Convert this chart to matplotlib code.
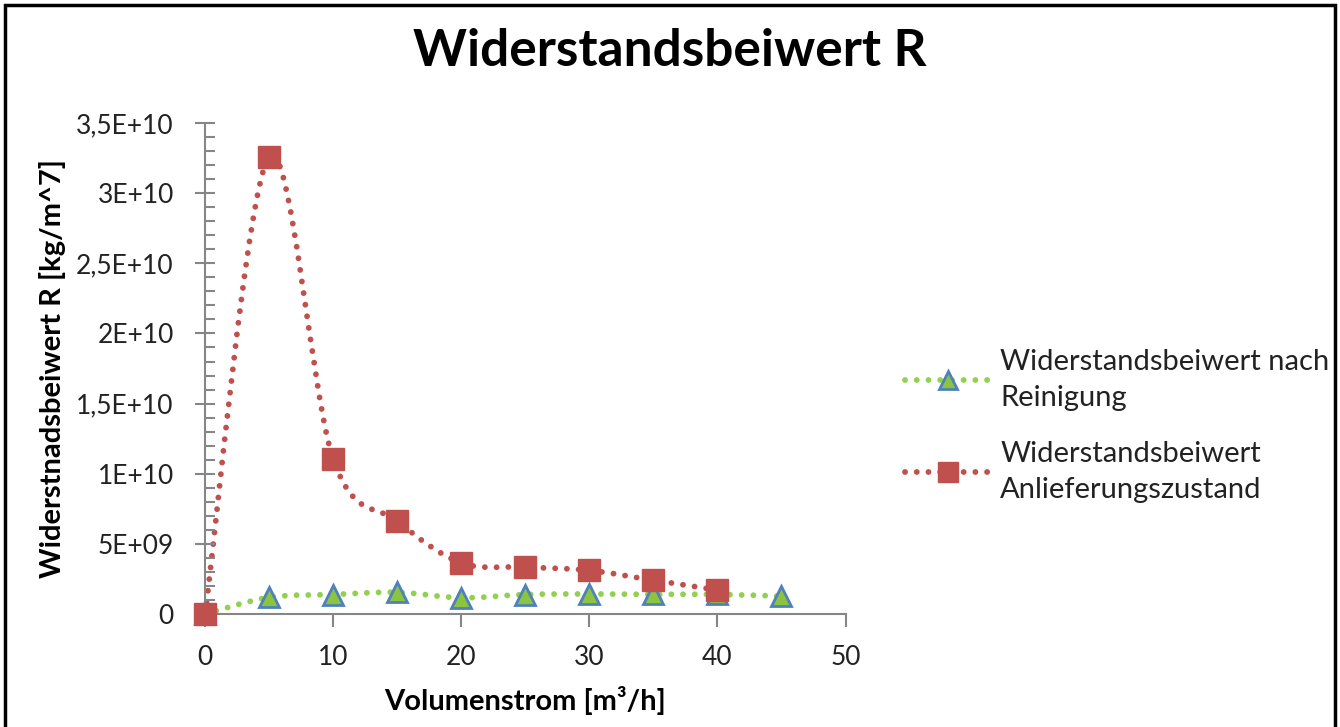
import numpy as np
import matplotlib.pyplot as plt
from matplotlib.path import Path
from matplotlib.patches import PathPatch, Rectangle
from matplotlib.lines import Line2D
from matplotlib.ticker import MultipleLocator, FuncFormatter

plt.rcParams['font.family'] = ['Lato', 'DejaVu Sans']

# Messwerte
volumenstrom_rein = [0, 5, 10, 15, 20, 25, 30, 35, 40, 45]
r_rein = [0, 1.19e9, 1.39e9, 1.55e9, 1.16e9, 1.39e9, 1.43e9, 1.40e9, 1.40e9, 1.27e9]

volumenstrom_anl = [0, 5, 10, 15, 20, 25, 30, 35, 40]
r_anl = [0, 3.26e10, 1.105e10, 6.63e9, 3.65e9, 3.35e9, 3.11e9, 2.41e9, 1.71e9]

label_rein = "Widerstandsbeiwert nach\nReinigung"
label_anl = "Widerstandsbeiwert\nAnlieferungszustand"

RED = '#C0504D'
LIME = '#92D050'
GREEN = '#8CC43F'
BLUE = '#4F81BD'
GRAY = '#868686'


def smooth_path(x, y):
    # geglaettete Linie wie in Excel (Bezier-Segmente)
    x = np.asarray(x, float)
    y = np.asarray(y, float)
    n = len(x)
    verts = [(x[0], y[0])]
    codes = [Path.MOVETO]
    for i in range(n - 1):
        i0 = max(i - 1, 0)
        i3 = min(i + 2, n - 1)
        c1 = (x[i] + (x[i + 1] - x[i0]) / 6, y[i] + (y[i + 1] - y[i0]) / 6)
        c2 = (x[i + 1] - (x[i3] - x[i]) / 6, y[i + 1] - (y[i3] - y[i]) / 6)
        verts += [c1, c2, (x[i + 1], y[i + 1])]
        codes += [Path.CURVE4] * 3
    return Path(verts, codes)


LW = 4.2
dots = (0, (0.01, 2.0))

fig = plt.figure(figsize=(13.4, 7.27), dpi=100)
ax = fig.add_axes([0.153, 0.1554, 0.478, 0.6754])

for xs, ys, col in [(volumenstrom_rein, r_rein, LIME), (volumenstrom_anl, r_anl, RED)]:
    patch = PathPatch(smooth_path(xs, ys), facecolor='none', edgecolor=col,
                      linewidth=LW, linestyle=dots, capstyle='round', clip_on=False)
    ax.add_patch(patch)

ax.plot(volumenstrom_rein, r_rein, linestyle='none', marker='^', markersize=14,
        markerfacecolor=GREEN, markeredgecolor=BLUE, markeredgewidth=2, clip_on=False, zorder=4)
ax.plot(volumenstrom_anl, r_anl, linestyle='none', marker='s', markersize=16,
        markerfacecolor=RED, markeredgecolor=RED, markeredgewidth=1, clip_on=False, zorder=5)

ax.set_xlim(0, 50)
ax.set_ylim(0, 3.5e10)
ax.xaxis.set_major_locator(MultipleLocator(10))
ax.yaxis.set_major_locator(MultipleLocator(5e9))
ax.yaxis.set_minor_locator(MultipleLocator(1e9))


def fmt_y(v, pos):
    if v == 0:
        return "0"
    s = "%.1E" % v
    mant, ex = s.split("E")
    mant = mant.rstrip("0").rstrip(".").replace(".", ",")
    return mant + "E" + ex[0] + "%02d" % int(ex[1:])


ax.yaxis.set_major_formatter(FuncFormatter(fmt_y))

for side in ['top', 'right']:
    ax.spines[side].set_visible(False)
for side in ['left', 'bottom']:
    ax.spines[side].set_color(GRAY)
    ax.spines[side].set_linewidth(1.5)

ax.tick_params(axis='y', which='major', direction='inout', length=15, width=1.5,
               color=GRAY, labelsize=19, pad=15, labelcolor='#222222')
ax.tick_params(axis='y', which='minor', direction='in', length=7, width=1.5, color=GRAY)
ax.tick_params(axis='x', which='major', direction='out', length=9, width=1.5,
               color=GRAY, labelsize=19, pad=13, labelcolor='#222222')

ax.set_xlabel("Volumenstrom [m³/h]", fontsize=21, fontweight='bold', labelpad=12)
ax.set_ylabel("Widerstnadsbeiwert R [kg/m^7]", fontsize=21, fontweight='bold', labelpad=7)

fig.text(0.5, 0.929, "Widerstandsbeiwert R", fontsize=37, fontweight='bold',
         ha='center', va='center')

handles = [
    Line2D([], [], color=LIME, linewidth=LW, linestyle=dots, dash_capstyle='round',
           marker='^', markersize=13, markerfacecolor=GREEN, markeredgecolor=BLUE, markeredgewidth=2),
    Line2D([], [], color=RED, linewidth=LW, linestyle=dots, dash_capstyle='round',
           marker='s', markersize=15, markerfacecolor=RED, markeredgecolor=RED),
]
leg = fig.legend(handles, [label_rein, label_anl], loc='center left',
                 bbox_to_anchor=(0.656, 0.414), frameon=False, fontsize=21,
                 handlelength=2.9, handletextpad=0.35, labelspacing=1.05)
for t in leg.get_texts():
    t.set_linespacing(1.45)
    t.set_color('#222222')

fig.add_artist(Rectangle((0.004, -0.01), 0.992, 1.003, transform=fig.transFigure,
                         fill=False, edgecolor='black', linewidth=2.5))

fig.savefig("out.png", dpi=100)
